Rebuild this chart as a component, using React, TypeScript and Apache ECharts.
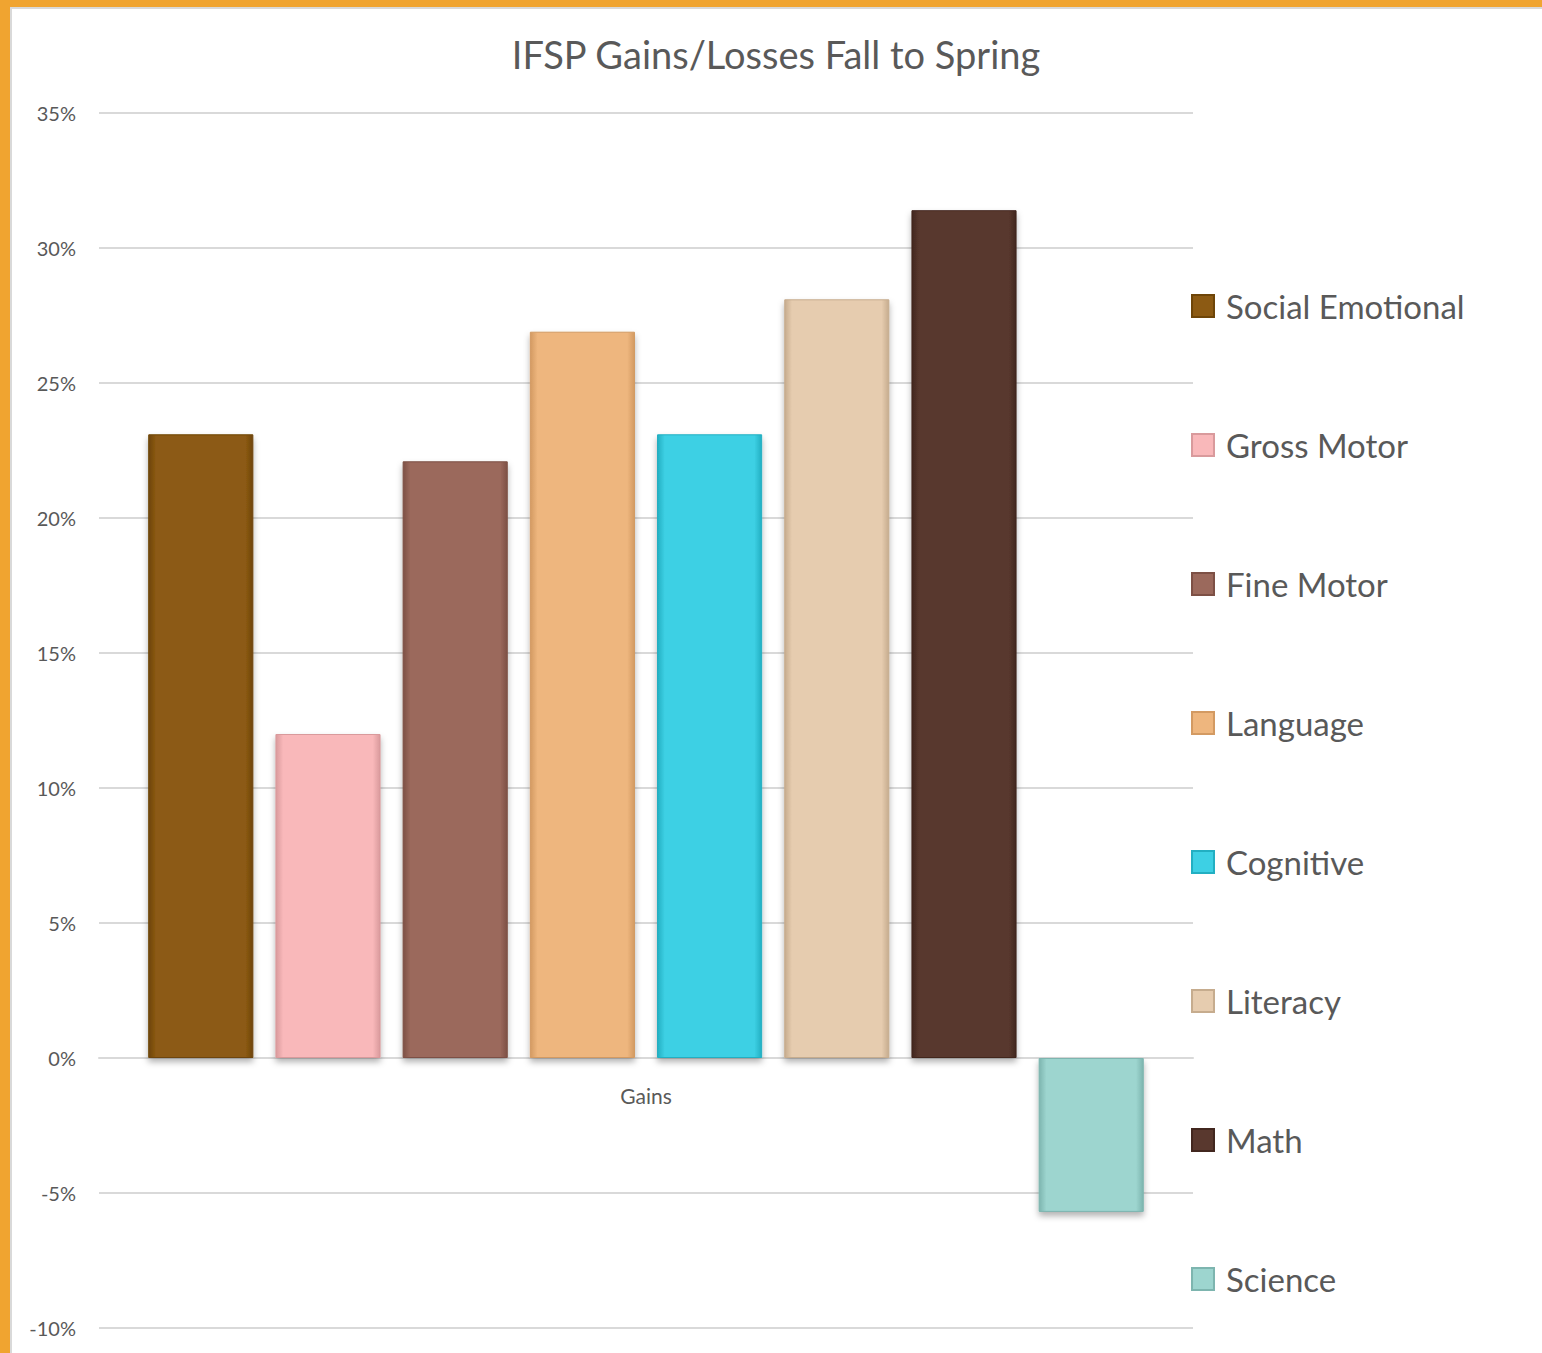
import React, { useEffect, useRef } from "react";
import * as echarts from "echarts";

const categories = ["Gains"];
const seriesNames = [
  "Social Emotional",
  "Gross Motor",
  "Fine Motor",
  "Language",
  "Cognitive",
  "Literacy",
  "Math",
  "Science",
];
const seriesValues = [23.1, 12.0, 22.1, 26.9, 23.1, 28.1, 31.4, -5.7];
const seriesColors = [
  "#8C5A13",
  "#F9B8BA",
  "#9B695C",
  "#EEB67E",
  "#3DD0E4",
  "#E6CCAF",
  "#59382E",
  "#9DD5CF",
];
const seriesBorders = [
  "#6E4508",
  "#D99A9C",
  "#7D5045",
  "#D39A62",
  "#22AFC2",
  "#C6AC8E",
  "#42271F",
  "#7DB5AF",
];
const yTicks = { min: -10, max: 35, interval: 5 };

export default function App() {
  const ref = useRef<HTMLDivElement>(null);
  useEffect(() => {
    document.body.style.margin = "0";
    const chart = echarts.init(ref.current!, undefined, { renderer: "svg" });
    const font = "Lato, 'Open Sans', sans-serif";
    const borderGraphics = [
      { type: "rect", left: 0, top: 0, shape: { width: 10, height: 1353 }, style: { fill: "#F0A430" }, z: 100 },
      { type: "rect", left: 0, top: 0, shape: { width: 1542, height: 7 }, style: { fill: "#F0A430" }, z: 100 },
      { type: "rect", left: 10, top: 7, shape: { width: 2, height: 1346 }, style: { fill: "#D9D9D9" }, z: 100 },
      { type: "rect", left: 10, top: 7, shape: { width: 1532, height: 2 }, style: { fill: "#D9D9D9" }, z: 100 },
    ];
    chart.setOption({
      animation: false,
      backgroundColor: "#ffffff",
      textStyle: { fontFamily: font },
      title: {
        text: "IFSP Gains/Losses Fall to Spring",
        left: 771,
        textAlign: "center",
        top: 30,
        textStyle: { fontFamily: font, fontSize: 38, fontWeight: "normal", color: "#595959" },
      },
      legend: {
        orient: "vertical",
        left: 1186,
        top: 281,
        icon: "rect",
        itemWidth: 22,
        itemHeight: 22,
        itemGap: 99,
        data: seriesNames,
        textStyle: {
          fontFamily: font,
          fontSize: 33,
          color: "#595959",
          lineHeight: 40,
          padding: [0, 0, 0, 7],
        },
      },
      grid: { left: 99, right: 349, top: 113, bottom: 25, containLabel: false, outerBoundsMode: "none" },
      xAxis: {
        type: "category",
        data: categories,
        axisLine: { show: true, onZero: true, lineStyle: { color: "#D9D9D9", width: 2 } },
        axisTick: { show: false },
        axisLabel: { show: false },
        splitLine: { show: false },
      },
      yAxis: {
        type: "value",
        min: yTicks.min,
        max: yTicks.max,
        interval: yTicks.interval,
        axisLine: { show: false },
        axisTick: { show: false },
        axisLabel: {
          formatter: "{value}%",
          margin: 23,
          fontSize: 20,
          color: "#595959",
          fontFamily: font,
        },
        splitLine: { lineStyle: { color: "#D9D9D9", width: 2 } },
      },
      series: seriesNames.map((name, i) => ({
        name,
        type: "bar",
        data: [seriesValues[i]],
        barGap: "21%",
        barCategoryGap: "9%",
        itemStyle: {
          color: {
            type: "linear",
            x: 0,
            y: 0,
            x2: 1,
            y2: 0,
            colorStops: [
              { offset: 0, color: seriesBorders[i] },
              { offset: 0.07, color: seriesColors[i] },
              { offset: 0.93, color: seriesColors[i] },
              { offset: 1, color: seriesBorders[i] },
            ],
          },
          borderColor: seriesBorders[i],
          borderWidth: 1,
          shadowBlur: 6,
          shadowOffsetY: 4,
          shadowColor: "rgba(0,0,0,0.3)",
        },
      })),
      graphic: borderGraphics,
    });
    const pt = chart.convertToPixel({ gridIndex: 0 }, [categories[0], 0]) as number[];
    chart.setOption({
      graphic: [
        ...borderGraphics,
        {
          type: "text",
          x: pt[0],
          y: pt[1] + 37,
          style: {
            text: categories[0],
            fontFamily: font,
            fontSize: 21,
            fill: "#595959",
            textAlign: "center",
            textVerticalAlign: "middle",
          },
        },
      ],
    });
    return () => chart.dispose();
  }, []);
  return <div ref={ref} style={{ width: 1542, height: 1353 }} />;
}
